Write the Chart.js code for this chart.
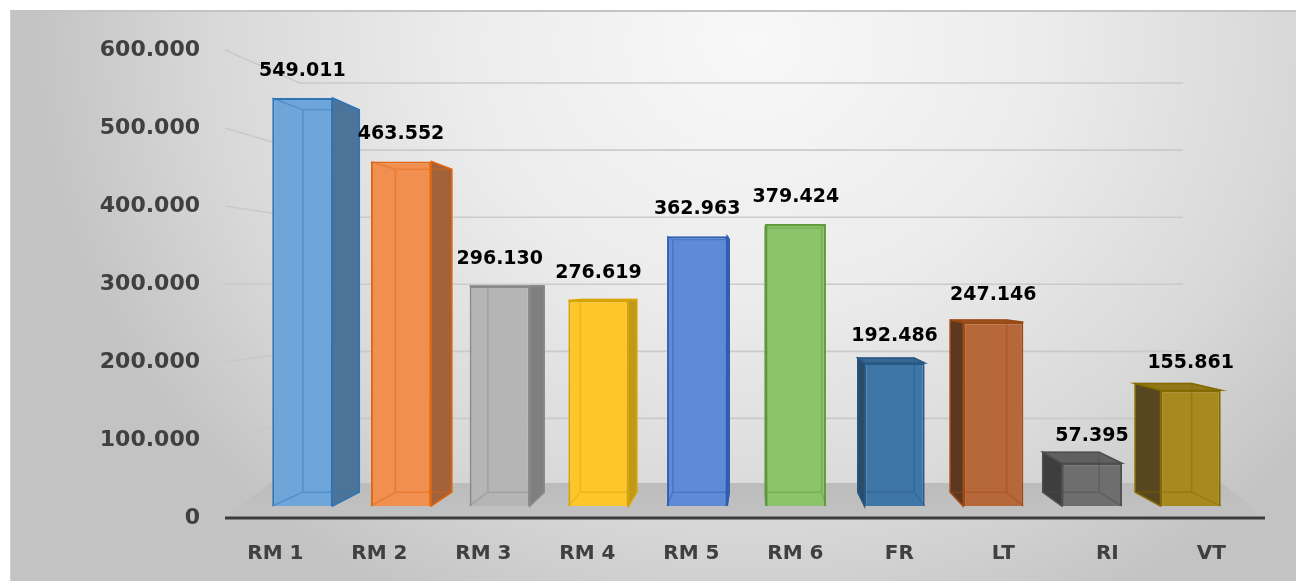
<!DOCTYPE html>
<html>
<head>
<meta charset="utf-8">
<script src="https://cdn.jsdelivr.net/npm/chart.js@4.4.1/dist/chart.umd.min.js"></script>
<style>
  html, body { margin: 0; padding: 0; background: #ffffff; }
  #wrap { position: relative; width: 1296px; height: 581px; overflow: hidden; }
  #card {
    position: absolute; left: 10px; top: 10px; width: 1286px; height: 571px;
    box-sizing: border-box;
    border-top: 2px solid #c4c4c4; border-left: 1px solid #cfcfcf;
    background: radial-gradient(ellipse 720px 640px at 740px 30px, #f8f8f8 0%, #ececec 40%, #d8d8d8 75%, #c3c3c3 100%);
  }
  #chart { position: absolute; left: 0; top: 0; }
</style>
</head>
<body>
<div id="wrap">
  <div id="card"></div>
  <canvas id="chart" width="1296" height="581"></canvas>
</div>
<script>
// ---- data ----
const categories = ['RM 1', 'RM 2', 'RM 3', 'RM 4', 'RM 5', 'RM 6', 'FR', 'LT', 'RI', 'VT'];
const values = [549011, 463552, 296130, 276619, 362963, 379424, 192486, 247146, 57395, 155861];
const yTickValues = [0, 100000, 200000, 300000, 400000, 500000, 600000];

// ---- styles ----
const faceColors = ['#6fa6da', '#f08f4f', '#b5b5b5', '#fdc62b', '#5f8bd6', '#8cc46b', '#3f76a8', '#b7683b', '#6e6e6e', '#a7891e'];
const edgeColors = ['#2e75b6', '#e0660f', '#8a8a8a', '#d9a400', '#2f5db2', '#5f9a3b', '#285884', '#9a4a14', '#4e4e4e', '#856a00'];
const sideColors = ['#4e7398', '#a3633a', '#7f7f7f', '#bf9a1a', '#3f68a8', '#6a9a4c', '#2b4b68', '#5c3820', '#3e3e3e', '#574620'];

function fmt(v) {
  return String(Math.round(v)).replace(/\B(?=(\d{3})+(?!\d))/g, '.');
}

const FONT = "'DejaVu Sans', 'Liberation Sans', sans-serif";

const K_BAR = 0.937;   // depth scale of bar boxes
const K_WALL = 0.86;   // depth scale of back wall

function vp(chart) {
  const a = chart.chartArea;
  return { x: a.left + (a.right - a.left) * 0.512, y: a.top + (a.bottom - a.top) * 0.504 };
}
function proj(p, v, k) {
  return { x: v.x + (p.x - v.x) * k, y: v.y + (p.y - v.y) * k };
}
function boxOf(bar, v) {
  const L = bar.x - bar.width / 2, R = bar.x + bar.width / 2, T = bar.y, B = bar.base;
  const bTL = proj({ x: L, y: T }, v, K_BAR), bBR = proj({ x: R, y: B }, v, K_BAR);
  return { L, R, T, B, bL: bTL.x, bT: bTL.y, bR: bBR.x, bB: bBR.y };
}
function poly(ctx, pts) {
  ctx.beginPath();
  ctx.moveTo(pts[0][0], pts[0][1]);
  for (let i = 1; i < pts.length; i++) ctx.lineTo(pts[i][0], pts[i][1]);
  ctx.closePath();
}

const scene3d = {
  id: 'scene3d',
  beforeDatasetsDraw(chart) {
    const ctx = chart.ctx, a = chart.chartArea, ys = chart.scales.y, v = vp(chart);
    ctx.save();
    // back wall gridlines
    ctx.strokeStyle = 'rgba(200,200,200,0.9)';
    ctx.lineWidth = 1.6;
    yTickValues.forEach(t => {
      if (t === 0) return;
      const f = { x: a.left - 28, y: ys.getPixelForValue(t) };
      const b = proj(f, v, K_WALL);
      ctx.beginPath();
      ctx.moveTo(f.x, f.y);
      ctx.lineTo(b.x, b.y);
      ctx.lineTo(a.right - 57, b.y);
      ctx.stroke();
    });
    // floor
    const grd = ctx.createLinearGradient(0, a.bottom - 35, 0, a.bottom);
    grd.addColorStop(0, '#bcbcbc');
    grd.addColorStop(1, '#c2c2c2');
    ctx.fillStyle = grd;
    poly(ctx, [[a.left - 28, a.bottom], [a.left + 17, a.bottom - 35], [a.right - 18, a.bottom - 35], [a.right + 25, a.bottom]]);
    ctx.fill();
    // axis line
    ctx.strokeStyle = '#3c3c3c';
    ctx.lineWidth = 3;
    ctx.beginPath();
    ctx.moveTo(a.left - 28, a.bottom);
    ctx.lineTo(a.right + 25, a.bottom);
    ctx.stroke();
    // side and top faces
    const meta = chart.getDatasetMeta(0);
    meta.data.forEach((bar, i) => {
      const b = boxOf(bar, v);
      ctx.lineWidth = 1.5;
      ctx.strokeStyle = edgeColors[i];
      ctx.fillStyle = sideColors[i];
      if (b.bR > b.R) {
        poly(ctx, [[b.R, b.T], [b.bR, b.bT], [b.bR, b.bB], [b.R, b.B]]);
        ctx.fill(); ctx.stroke();
      }
      if (b.bL < b.L) {
        poly(ctx, [[b.L, b.T], [b.bL, b.bT], [b.bL, b.bB], [b.L, b.B]]);
        ctx.fill(); ctx.stroke();
      }
      if (b.bT < b.T) {
        ctx.fillStyle = faceColors[i];
        poly(ctx, [[b.L, b.T], [b.R, b.T], [b.bR, b.bT], [b.bL, b.bT]]);
        ctx.fill();
        ctx.fillStyle = 'rgba(0,0,0,0.12)';
        ctx.fill();
        ctx.stroke();
      }
    });
    ctx.restore();
  },
  afterDatasetsDraw(chart) {
    const ctx = chart.ctx, v = vp(chart);
    const meta = chart.getDatasetMeta(0);
    ctx.save();
    meta.data.forEach((bar, i) => {
      const b = boxOf(bar, v);
      ctx.strokeStyle = edgeColors[i];
      ctx.globalAlpha = 0.45;
      ctx.lineWidth = 1.5;
      ctx.beginPath();
      ctx.rect(b.bL, b.bT, b.bR - b.bL, b.bB - b.bT);
      ctx.moveTo(b.L, b.T); ctx.lineTo(b.bL, b.bT);
      ctx.moveTo(b.R, b.T); ctx.lineTo(b.bR, b.bT);
      ctx.moveTo(b.L, b.B); ctx.lineTo(b.bL, b.bB);
      ctx.moveTo(b.R, b.B); ctx.lineTo(b.bR, b.bB);
      ctx.stroke();
      ctx.globalAlpha = 1;
      ctx.fillStyle = '#000000';
      ctx.font = 'bold 19px ' + FONT;
      ctx.textAlign = 'center';
      ctx.textBaseline = 'middle';
      ctx.fillText(fmt(values[i]), bar.x, b.T - 27);
    });
    ctx.restore();
  }
};

new Chart(document.getElementById('chart'), {
  type: 'bar',
  data: {
    labels: categories,
    datasets: [{
      data: values,
      backgroundColor: faceColors,
      borderColor: edgeColors,
      borderWidth: 2,
      categoryPercentage: 1,
      barPercentage: 0.61,
      xAxisID: 'x',
      yAxisID: 'yBar'
    }]
  },
  options: {
    responsive: false,
    animation: false,
    layout: { padding: { top: 50, right: 56, bottom: 0, left: 0 } },
    plugins: { legend: { display: false }, tooltip: { enabled: false } },
    scales: {
      x: { type: 'category', display: false },
      xLab: {
        type: 'linear', position: 'bottom',
        min: -0.215, max: 9.275, offset: false,
        grid: { display: false, drawTicks: false, offset: false },
        border: { display: false },
        ticks: {
          stepSize: 1, maxTicksLimit: 30, autoSkip: false, maxRotation: 0,
          includeBounds: false,
          padding: 24, color: '#404040',
          font: { family: FONT, size: 20, weight: 'bold' },
          callback: (val) => Number.isInteger(val) && categories[val] ? categories[val] : ''
        },
        afterFit: (s) => { s.height = 63; s.paddingLeft = 0; s.paddingRight = 0; }
      },
      y: {
        type: 'linear', position: 'left',
        min: 0, max: 600000,
        grid: { display: false, drawTicks: false },
        border: { display: false },
        ticks: {
          stepSize: 100000, padding: 53, color: '#404040',
          font: { family: FONT, size: 22, weight: 'bold' },
          callback: (val) => fmt(val)
        },
        afterFit: (s) => { s.width = 253; s.paddingTop = 0; s.paddingBottom = 0; }
      },
      yBar: { type: 'linear', display: false, min: -16147, max: 613597 }
    }
  },
  plugins: [scene3d]
});
</script>
</body>
</html>
